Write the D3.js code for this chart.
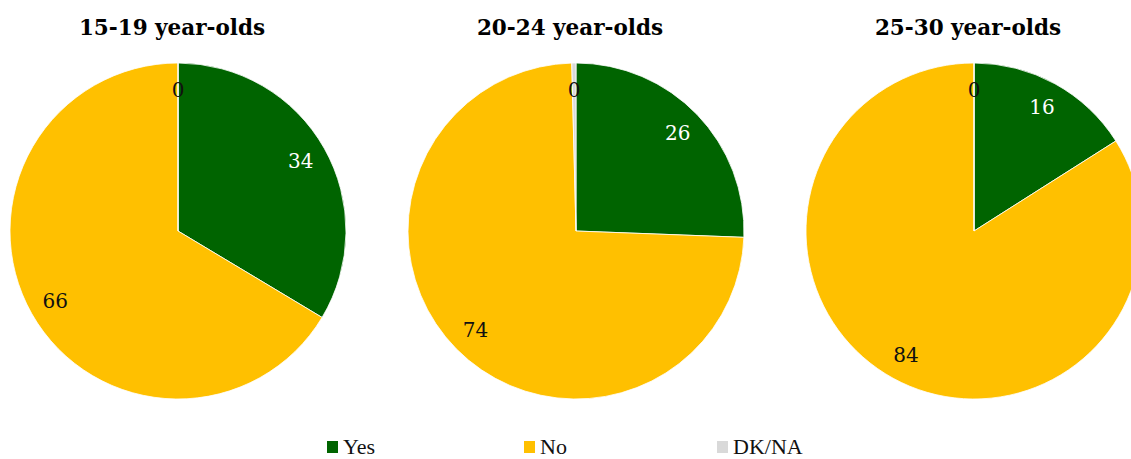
<!DOCTYPE html>
<html>
<head>
<meta charset="utf-8">
<script src="https://cdn.jsdelivr.net/npm/d3@7"></script>
<style>
  body { margin: 0; background: #fff; }
</style>
</head>
<body>
<svg id="chart"></svg>
<script>
// Data
const groups = ["15-19 year-olds", "20-24 year-olds", "25-30 year-olds"];
const answers = ["Yes", "No", "DK/NA"];
const yesValues = [33.6, 25.6, 16.0];
const noValues = [66.4, 74.0, 84.0];
const dkValues = [0, 0.4, 0];

const colors = ["#006400", "#FFC000", "#D9D9D9"];
const labelColors = ["#fff", "#111", "#111"];

const width = 1131, height = 459;
const radius = 168;

const svg = d3.select("#chart")
    .attr("width", width)
    .attr("height", height);

const x = d3.scalePoint()
    .domain(groups)
    .range([178, 974]);

const pie = d3.pie().sort(null).value(d => d.value);
const arc = d3.arc().innerRadius(0).outerRadius(radius);
const labelArc = d3.arc().innerRadius(radius * 0.84).outerRadius(radius * 0.84);

groups.forEach((g, i) => {
    const data = [
        { key: "Yes", value: yesValues[i] },
        { key: "No", value: noValues[i] },
        { key: "DK/NA", value: dkValues[i] }
    ];
    const cx = x(g), cy = 231;

    svg.append("text")
        .attr("x", cx - 6)
        .attr("y", 35)
        .attr("text-anchor", "middle")
        .style("font-family", "'DejaVu Serif', serif")
        .style("font-weight", "bold")
        .style("font-size", "21.5px")
        .text(g);

    const pg = svg.append("g").attr("transform", `translate(${cx},${cy})`);

    pg.selectAll("path")
        .data(pie(data))
        .enter()
        .append("path")
        .attr("d", arc)
        .attr("fill", (d, j) => colors[j])
        .attr("stroke", "#fff")
        .attr("stroke-width", 0.8);

    pg.selectAll("text")
        .data(pie(data))
        .enter()
        .append("text")
        .attr("transform", d => `translate(${labelArc.centroid(d)})`)
        .attr("text-anchor", "middle")
        .attr("dominant-baseline", "central")
        .attr("fill", (d, j) => labelColors[j])
        .style("font-family", "'DejaVu Serif', serif")
        .style("font-size", "20px")
        .text(d => Math.round(d.data.value));
});

// Legend
const legendX = [327, 524, 717];
const legend = svg.append("g");
answers.forEach((a, i) => {
    legend.append("rect")
        .attr("x", legendX[i])
        .attr("y", 441)
        .attr("width", 11)
        .attr("height", 12)
        .attr("fill", colors[i]);
    legend.append("text")
        .attr("x", legendX[i] + 16)
        .attr("y", 454)
        .style("font-family", "'Liberation Serif', serif")
        .style("font-size", "22px")
        .attr("fill", "#111")
        .text(a);
});
</script>
</body>
</html>
